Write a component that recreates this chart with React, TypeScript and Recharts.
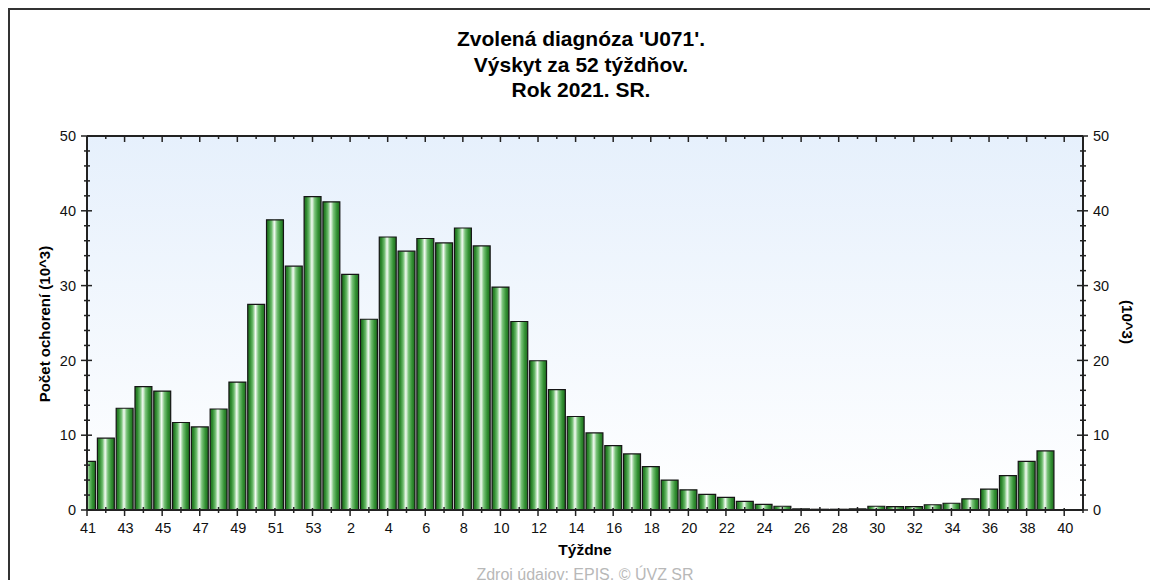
import React from 'react';
import { BarChart, Bar, XAxis, YAxis, CartesianGrid } from 'recharts';

const weeks = [
  '41', '42', '43', '44', '45', '46', '47', '48', '49', '50', '51', '52', '53',
  '1', '2', '3', '4', '5', '6', '7', '8', '9', '10', '11', '12', '13', '14', '15',
  '16', '17', '18', '19', '20', '21', '22', '23', '24', '25', '26', '27', '28', '29',
  '30', '31', '32', '33', '34', '35', '36', '37', '38', '39',
];

const cases = [
  6.5, 9.6, 13.6, 16.5, 15.9, 11.7, 11.1, 13.5, 17.1, 27.5, 38.8, 32.6, 41.9,
  41.2, 31.5, 25.5, 36.5, 34.6, 36.3, 35.7, 37.7, 35.3, 29.8, 25.2, 19.95, 16.1, 12.5, 10.3,
  8.6, 7.5, 5.8, 4.0, 2.7, 2.1, 1.7, 1.15, 0.75, 0.5, 0.15, 0.1, 0.1, 0.15,
  0.5, 0.45, 0.45, 0.7, 0.9, 1.5, 2.8, 4.6, 6.5, 7.9,
];

// axis positions: the 52 weeks, then week 40 and the next 41 at the right edge
const axisLabels = [...weeks, '40', '41'];
const yTicks = [0, 2, 4, 6, 8, 10, 12, 14, 16, 18, 20, 22, 24, 26, 28, 30, 32, 34, 36, 38, 40, 42, 44, 46, 48, 50];

const titleLines = ["Zvolená diagnóza 'U071'.", 'Výskyt za 52 týždňov.', 'Rok 2021. SR.'];
const xTitle = 'Týždne';
const yTitleLeft = 'Počet ochorení (10^3)';
const yTitleRight = '(10^3)';
const sourceText = 'Zdroj údajov: EPIS, © ÚVZ SR';

const data = weeks.map((w, i) => ({ pos: i, week: w, value: cases[i] }));
const xTicks = axisLabels.map((_, i) => i);

const FONT = '"Liberation Sans", Arial, sans-serif';
const AX = '#222';
const TICK_FS = 14.5;

const BottomTick = (props: any) => {
  const { x, y, payload } = props;
  const i = payload.value as number;
  const major = i % 2 === 0;
  return (
    <g>
      <line x1={x} x2={x} y1={y - (major ? 2 : 3)} y2={y + (major ? 6 : 3)} stroke={AX} strokeWidth={1.5} />
      {major && i <= 52 && (
        <text x={x + 1} y={y + 23} textAnchor="middle" fontSize={TICK_FS} fill="#111" fontFamily={FONT}>
          {axisLabels[i]}
        </text>
      )}
    </g>
  );
};

const TopTick = (props: any) => {
  const { x, y, payload } = props;
  const i = payload.value as number;
  const major = i % 2 === 0;
  if (i <= 0 || i >= 53) return <g />;
  return <line x1={x} x2={x} y1={y} y2={y + (major ? 6 : 3)} stroke={AX} strokeWidth={1.5} />;
};

const LeftTick = (props: any) => {
  const { x, y, payload } = props;
  const v = payload.value as number;
  const major = v % 10 === 0;
  return (
    <g>
      <line x1={x - (major ? 6 : 3)} x2={x + (major ? 5 : 3)} y1={y} y2={y} stroke={AX} strokeWidth={1.5} />
      {major && (
        <text x={x - 11} y={y} dy="0.36em" textAnchor="end" fontSize={TICK_FS} fill="#111" fontFamily={FONT}>
          {v}
        </text>
      )}
    </g>
  );
};

const RightTick = (props: any) => {
  const { x, y, payload } = props;
  const v = payload.value as number;
  const major = v % 10 === 0;
  return (
    <g>
      <line x1={x - (major ? 6 : 3)} x2={x + (major ? 5 : 3)} y1={y} y2={y} stroke={AX} strokeWidth={1.5} />
      {major && (
        <text x={x + 10} y={y} dy="0.36em" textAnchor="start" fontSize={TICK_FS} fill="#111" fontFamily={FONT}>
          {v}
        </text>
      )}
    </g>
  );
};

export default function App() {
  return (
    <div style={{ position: 'absolute', left: 0, top: 0, width: 1150, height: 580, overflow: 'hidden', background: '#fff', fontFamily: FONT }}>
      <div style={{ position: 'absolute', left: 8, top: 8, width: 1200, height: 600, borderTop: '2px solid #333', borderLeft: '2px solid #333' }} />
      <div style={{ position: 'absolute', left: 331, top: 26, width: 500, textAlign: 'center', fontSize: 21, fontWeight: 'bold', lineHeight: '25.5px', color: '#000' }}>
        {titleLines.map((t) => (
          <div key={t}>{t}</div>
        ))}
      </div>
      <div style={{ position: 'absolute', left: 0, top: 0 }}>
        <BarChart
          width={1150}
          height={580}
          data={data}
          margin={{ top: 126, right: 7, bottom: 40, left: 47 }}
          barCategoryGap={0}
          barGap={0}
        >
          <defs>
            <linearGradient id="bgGrad" x1="0" y1="0" x2="0" y2="1">
              <stop offset="0%" stopColor="#e6f0fc" />
              <stop offset="100%" stopColor="#ffffff" />
            </linearGradient>
            <linearGradient id="barGrad" x1="0" y1="0" x2="1" y2="0">
              <stop offset="0%" stopColor="#1d6a1d" />
              <stop offset="14%" stopColor="#2f8a2f" />
              <stop offset="30%" stopColor="#6dbb6d" />
              <stop offset="46%" stopColor="#f4fbf4" />
              <stop offset="62%" stopColor="#79c279" />
              <stop offset="82%" stopColor="#349234" />
              <stop offset="100%" stopColor="#1d6a1d" />
            </linearGradient>
          </defs>
          <CartesianGrid xAxisId="bottom" yAxisId="left" horizontal={false} vertical={false} fill="url(#bgGrad)" fillOpacity={1} stroke="none" />
          <XAxis
            xAxisId="bottom"
            dataKey="pos"
            type="number"
            domain={[0, 53]}
            allowDataOverflow
            ticks={xTicks}
            interval={0}
            height={30}
            tickSize={0}
            tickMargin={0}
            tickLine={false}
            axisLine={{ stroke: AX, strokeWidth: 2 }}
            tick={<BottomTick />}
          />
          <XAxis
            xAxisId="top"
            dataKey="pos"
            orientation="top"
            type="number"
            domain={[0, 53]}
            allowDataOverflow
            ticks={xTicks}
            interval={0}
            height={10}
            tickSize={0}
            tickMargin={0}
            tickLine={false}
            axisLine={{ stroke: AX, strokeWidth: 2 }}
            tick={<TopTick />}
          />
          <YAxis
            yAxisId="left"
            type="number"
            domain={[0, 50]}
            allowDataOverflow
            ticks={yTicks}
            interval={0}
            width={40}
            tickSize={0}
            tickMargin={0}
            tickLine={false}
            axisLine={{ stroke: AX, strokeWidth: 2 }}
            tick={<LeftTick />}
          />
          <YAxis
            yAxisId="right"
            orientation="right"
            type="number"
            domain={[0, 50]}
            allowDataOverflow
            ticks={yTicks}
            interval={0}
            width={60}
            tickSize={0}
            tickMargin={0}
            tickLine={false}
            axisLine={{ stroke: AX, strokeWidth: 2 }}
            tick={<RightTick />}
          />
          <Bar
            dataKey="value"
            xAxisId="bottom"
            yAxisId="left"
            barSize={19}
            fill="url(#barGrad)"
            stroke="#151515"
            strokeWidth={1.2}
            isAnimationActive={false}
          />
        </BarChart>
      </div>
      <div style={{ position: 'absolute', left: 485, top: 541, width: 200, textAlign: 'center', fontSize: 15.5, fontWeight: 'bold', color: '#000' }}>
        {xTitle}
      </div>
      <div style={{ position: 'absolute', left: 45, top: 324, width: 0, height: 0 }}>
        <div style={{ position: 'absolute', left: -150, top: -10, width: 300, textAlign: 'center', fontSize: 15, fontWeight: 'bold', color: '#000', lineHeight: '20px', transform: 'rotate(-90deg)', whiteSpace: 'nowrap' }}>
          {yTitleLeft}
        </div>
      </div>
      <div style={{ position: 'absolute', left: 1127, top: 322, width: 0, height: 0 }}>
        <div style={{ position: 'absolute', left: -50, top: -10, width: 100, textAlign: 'center', fontSize: 15, fontWeight: 'bold', color: '#000', lineHeight: '20px', transform: 'rotate(90deg)', whiteSpace: 'nowrap' }}>
          {yTitleRight}
        </div>
      </div>
      <div style={{ position: 'absolute', left: 385, top: 567, width: 400, textAlign: 'center', fontSize: 16, lineHeight: '16px', color: '#b8b8b8', whiteSpace: 'nowrap' }}>
        {sourceText}
      </div>
    </div>
  );
}
